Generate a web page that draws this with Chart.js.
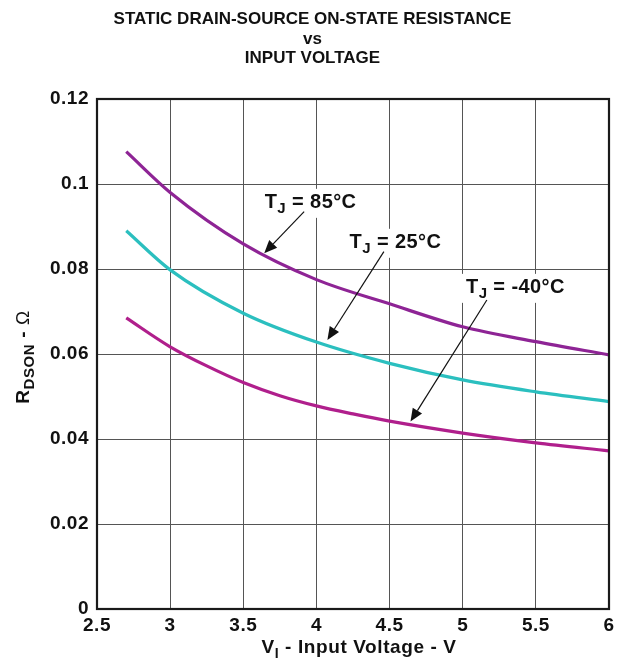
<!DOCTYPE html>
<html>
<head>
<meta charset="utf-8">
<script src="https://cdn.jsdelivr.net/npm/chart.js@4.4.1/dist/chart.umd.min.js"></script>
<style>
html,body{margin:0;padding:0;background:#fff;}
canvas{display:block;}
</style>
</head>
<body>
<canvas id="c" width="625" height="660"></canvas>
<script>
// ---- data ----
const v85 = [2.7, 3.0, 3.5, 4.0, 4.5, 5.0, 5.5, 6.0];
const r85 = [0.1076, 0.0980, 0.0859, 0.0775, 0.0718, 0.0664, 0.0629, 0.0598];
const v25 = [2.7, 3.0, 3.5, 4.0, 4.5, 5.0, 5.5, 6.0];
const r25 = [0.0890, 0.0798, 0.0696, 0.0628, 0.0578, 0.0539, 0.0511, 0.0488];
const vm40 = [2.7, 3.0, 3.25, 3.5, 3.75, 4.0, 4.25, 4.5, 5.0, 5.5, 6.0];
const rm40 = [0.0685, 0.0617, 0.0572, 0.0533, 0.0502, 0.0478, 0.0459, 0.0442, 0.0414, 0.0391, 0.0372];
const xTicks = [2.5, 3, 3.5, 4, 4.5, 5, 5.5, 6];
const yTicks = [0, 0.02, 0.04, 0.06, 0.08, 0.1, 0.12];
const titleLines = ["STATIC DRAIN-SOURCE ON-STATE RESISTANCE", "vs", "INPUT VOLTAGE"];
const seriesNames = ["85°C", "25°C", "-40°C"];
// annotation: label centre (V, R), arrow start (V, R), arrow tip (V, R)
const annLabelV = [3.96, 4.54, 5.36];
const annLabelR = [0.0958, 0.0864, 0.0758];
const annFromV = [3.916, 4.461, 5.165];
const annFromR = [0.0935, 0.0841, 0.0727];
const annTipV = [3.643, 4.075, 4.643];
const annTipR = [0.0837, 0.0633, 0.0441];

const FONT = '"Liberation Sans", Arial, Helvetica, sans-serif';
const colors = ['#8E2495', '#2BBFBF', '#B01F8C'];

function toXY(xs, ys){ return xs.map((x,i)=>({x:x, y:ys[i]})); }

function setFont(ctx, p, size, subSize){
  ctx.font = (p.light ? '' : 'bold ') + (p.sub ? subSize : size) + 'px ' + FONT;
}
function richWidth(ctx, parts, size, subSize){
  let w = 0;
  parts.forEach(p=>{ setFont(ctx, p, size, subSize); w += ctx.measureText(p.t).width; });
  return w;
}
function drawRich(ctx, parts, x, y, size, subSize, subDrop, align){
  const w = richWidth(ctx, parts, size, subSize);
  let cx = align === 'center' ? x - w/2 : (align === 'right' ? x - w : x);
  ctx.textAlign = 'left';
  ctx.textBaseline = 'alphabetic';
  parts.forEach(p=>{
    setFont(ctx, p, size, subSize);
    ctx.fillText(p.t, cx, y + (p.sub ? subDrop : 0));
    cx += ctx.measureText(p.t).width;
  });
  return w;
}

const decorPlugin = {
  id: 'decor',
  beforeDraw(chart){
    chart.ctx.letterSpacing = '0.5px';
  },
  afterDraw(chart){
    const ctx = chart.ctx;
    const a = chart.chartArea;
    const xs = chart.scales.x, ys = chart.scales.y;
    ctx.save();
    // frame
    ctx.strokeStyle = '#1a1a1a';
    ctx.lineWidth = 2.2;
    ctx.strokeRect(a.left, a.top, a.right - a.left, a.bottom - a.top);
    // title
    ctx.letterSpacing = '0px';
    ctx.fillStyle = '#111';
    ctx.textAlign = 'center';
    ctx.textBaseline = 'alphabetic';
    ctx.font = 'bold 17px ' + FONT;
    const tY = [24, 44, 63];
    titleLines.forEach((t,i)=> ctx.fillText(t, 312.5, tY[i]));
    // x axis title
    ctx.letterSpacing = '0.6px';
    drawRich(ctx, [{t:'V'},{t:'I',sub:true},{t:' - Input Voltage - V'}], 359, 653, 19, 14, 5, 'center');
    // y axis title (rotated)
    ctx.save();
    ctx.translate(29, 357);
    ctx.rotate(-Math.PI/2);
    drawRich(ctx, [{t:'R'},{t:'DSON',sub:true},{t:' - '},{t:'Ω',light:true}], 0, 0, 19, 15, 5, 'center');
    ctx.restore();
    // annotations
    ctx.letterSpacing = '0.4px';
    for (let i = 0; i < seriesNames.length; i++){
      const parts = [{t:'T'},{t:'J',sub:true},{t:' = ' + seriesNames[i]}];
      const lx = xs.getPixelForValue(annLabelV[i]);
      const ly = ys.getPixelForValue(annLabelR[i]);
      const w = richWidth(ctx, parts, 20, 15);
      ctx.fillStyle = '#fff';
      ctx.fillRect(lx - w/2 - 5, ly - 13, w + 10, 29);
      ctx.fillStyle = '#111';
      drawRich(ctx, parts, lx, ly + 6, 20, 15, 5, 'center');
      // arrow
      const x1 = xs.getPixelForValue(annFromV[i]), y1 = ys.getPixelForValue(annFromR[i]);
      const x2 = xs.getPixelForValue(annTipV[i]), y2 = ys.getPixelForValue(annTipR[i]);
      const ang = Math.atan2(y2 - y1, x2 - x1);
      const hl = 13, hw = 5.5;
      const bx = x2 - hl*Math.cos(ang), by = y2 - hl*Math.sin(ang);
      ctx.strokeStyle = '#111';
      ctx.lineWidth = 1.2;
      ctx.beginPath();
      ctx.moveTo(x1, y1);
      ctx.lineTo(bx, by);
      ctx.stroke();
      ctx.beginPath();
      ctx.moveTo(x2, y2);
      ctx.lineTo(bx + hw*Math.sin(ang), by - hw*Math.cos(ang));
      ctx.lineTo(bx - hw*Math.sin(ang), by + hw*Math.cos(ang));
      ctx.closePath();
      ctx.fillStyle = '#111';
      ctx.fill();
    }
    ctx.restore();
  }
};

const mkDs = (label, xs, data, color) => ({
  label: label,
  data: toXY(xs, data),
  borderColor: color,
  backgroundColor: color,
  borderWidth: 3.2,
  pointRadius: 0,
  cubicInterpolationMode: 'monotone',
  fill: false
});

new Chart(document.getElementById('c'), {
  type: 'line',
  data: {
    datasets: [
      mkDs(seriesNames[0], v85, r85, colors[0]),
      mkDs(seriesNames[1], v25, r25, colors[1]),
      mkDs(seriesNames[2], vm40, rm40, colors[2])
    ]
  },
  options: {
    responsive: false,
    animation: false,
    devicePixelRatio: 1,
    layout: { padding: { top: 99, right: 16, left: 0, bottom: 0 } },
    plugins: { legend: { display: false }, tooltip: { enabled: false }, title: { display: false } },
    scales: {
      x: {
        type: 'linear', min: 2.5, max: 6,
        afterBuildTicks(s){ s.ticks = xTicks.map(v=>({value:v})); },
        afterFit(s){ s.height = 51; },
        grid: { color: '#555', lineWidth: 1, drawTicks: false },
        border: { display: false },
        ticks: { color: '#111', padding: 5, font: { family: FONT, size: 19, weight: 'bold' }, maxRotation: 0,
          callback: v => String(v) }
      },
      y: {
        type: 'linear', min: 0, max: 0.12,
        afterBuildTicks(s){ s.ticks = yTicks.map(v=>({value:v})); },
        afterFit(s){ s.width = 97; },
        grid: { color: '#555', lineWidth: 1, drawTicks: false },
        border: { display: false },
        ticks: { color: '#111', padding: 8, font: { family: FONT, size: 19, weight: 'bold' },
          callback: v => String(v) }
      }
    }
  },
  plugins: [decorPlugin]
});
</script>
</body>
</html>
